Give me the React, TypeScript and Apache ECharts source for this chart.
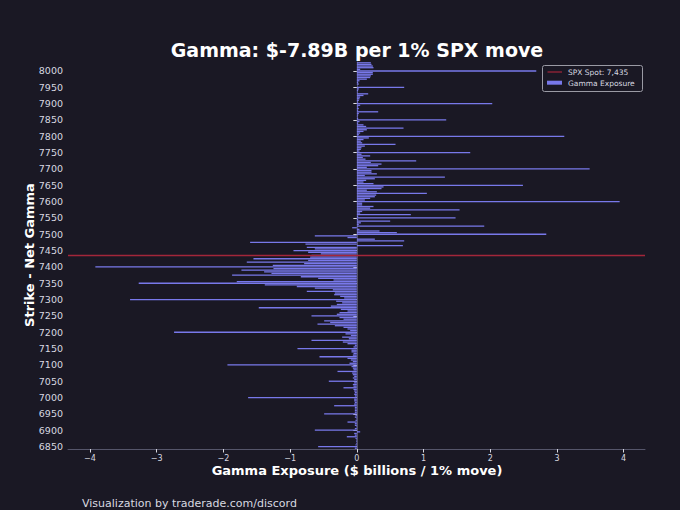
import React, { useEffect, useRef } from "react";
import * as echarts from "echarts";

const SPX_SPOT = "7435";
const TITLE = "Gamma: $-7.89B per 1% SPX move";
const X_NAME = "Gamma Exposure ($ billions / 1% move)";
const Y_NAME = "Strike - Net Gamma";
const FOOTER = "Visualization by traderade.com/discord";

// strikes from 8025 down to 6845, step 5
const STRIKE_TOP = 8025;
const STRIKE_BOTTOM = 6845;
const STRIKE_STEP = 5;

// gamma exposure, $ billions per 1% move, listed from high strike to low strike
const gex8025to7755 = [
  0.21, 0.22, 0.24, 0.25, 0.05,
  2.69, 0.24, 0.24, 0.21, 0.2,
  0.15, 0.04, 0.02, 0.03, 0.0,
  0.71, 0.03, 0.02, 0.01, 0.17,
  0.1, 0.05, 0.04, 0.03, 0.02,
  2.03, 0.05, 0.02, 0.03, 0.02,
  0.32, 0.03, 0.02, 0.01, 0.02,
  1.34, 0.04, 0.02, 0.1, 0.14,
  0.7, 0.15, 0.1, 0.05, 0.03,
  3.11, 0.18, 0.1, 0.06, 0.08,
  0.58, 0.12, 0.07, 0.06, 0.04,
];
const gex7750to7505 = [
  1.7, 0.07, 0.2, 0.09, 0.13,
  0.89, 0.21, 0.37, 0.32, 0.15,
  3.49, 0.22, 0.22, 0.3, 0.12,
  1.32, 0.27, 0.14, 0.1, 0.25,
  2.49, 0.4, 0.37, 0.15, 0.3,
  1.05, 0.29, 0.27, 0.2, 0.12,
  3.94, 0.08, 0.08, 0.25, 0.2,
  1.54, 0.08, 0.05, 0.81, 0.02,
  1.48, 0.02, 0.5, 0.06, 0.03,
  1.91, -0.07, 0.04, 0.34, 0.6,
];
const gex7500to7255 = [
  2.84, -0.63, -0.14, 0.27, 0.71,
  -1.6, -0.77, 0.69, -0.75, -0.63,
  -0.95, -0.73, -0.54, -0.68, -0.7,
  -1.55, -0.73, -1.65, -0.79, -1.26,
  -3.92, -1.25, -1.73, -1.39, -1.28,
  -1.87, -0.84, -0.58, -0.35, -1.8,
  -3.27, -1.38, -0.9, -0.63, -0.36,
  -0.75, -0.33, -0.34, -0.25, -0.19,
  -3.4, -0.31, -0.22, -0.3, -0.39,
  -1.47, -0.24, -0.14, -0.26, -0.3,
];
const gex7250to7005 = [
  -0.68, -0.26, -0.2, -0.49, -0.4,
  -0.59, -0.33, -0.2, -0.14, -0.1,
  -2.74, -0.17, -0.09, -0.22, -0.12,
  -0.68, -0.21, -0.14, -0.03, -0.05,
  -0.89, -0.08, -0.08, -0.05, -0.06,
  -0.56, -0.14, -0.09, -0.06, -0.11,
  -1.94, -0.08, -0.06, -0.05, -0.29,
  -0.07, -0.06, -0.04, -0.06, -0.04,
  -0.42, -0.04, -0.06, -0.05, -0.2,
  -0.05, -0.04, -0.03, -0.04, -0.03,
];
const gex7000to6845 = [
  -1.63, -0.04, -0.04, -0.03, -0.04,
  -0.34, -0.03, -0.03, -0.03, -0.03,
  -0.49, -0.02, -0.03, -0.01, -0.02,
  -0.14, -0.03, -0.03, -0.01, -0.03,
  -0.63, 0.05, -0.04, -0.03, -0.15,
  -0.02, -0.01, -0.01, -0.01, -0.02,
  -0.58, -0.03,
];

const yTickLabels = [
  "6850", "6900", "6950", "7000", "7050", "7100", "7150", "7200", "7250",
  "7300", "7350", "7400", "7450", "7500", "7550", "7600", "7650", "7700",
  "7750", "7800", "7850", "7900", "7950", "8000",
];
const xTickValues = [-4, -3, -2, -1, 0, 1, 2, 3, 4];

const BG = "#1a1824";
const BAR = "#7878ea";
const SPOT_COLOR = "#a3263a";
const TEXT = "#d8d8e0";
const AXIS = "#55556a";
const FONT = "DejaVu Sans";

export default function App() {
  const ref = useRef<HTMLDivElement>(null);

  useEffect(() => {
    if (!ref.current) return;
    const chart = echarts.init(ref.current, undefined, { renderer: "svg" });

    const strikesDesc: string[] = [];
    for (let s = STRIKE_TOP; s >= STRIKE_BOTTOM; s -= STRIKE_STEP) strikesDesc.push(String(s));
    const valuesDesc = [
      ...gex8025to7755,
      ...gex7750to7505,
      ...gex7500to7255,
      ...gex7250to7005,
      ...gex7000to6845,
    ];
    const strikes = strikesDesc.slice().reverse();
    const values = valuesDesc.slice().reverse();

    const isLabel = (_i: number, v: string) => yTickLabels.includes(String(v));

    chart.setOption({
      animation: false,
      backgroundColor: BG,
      textStyle: { fontFamily: FONT },
      grid: { left: 68, right: 35, top: 62, bottom: 61, containLabel: false },
      xAxis: {
        type: "value",
        min: -4.33,
        max: 4.32,
        splitLine: { show: false },
        axisLine: { show: true, onZero: false, lineStyle: { color: AXIS, width: 1 } },
        axisTick: { show: true, length: 3.5, lineStyle: { color: TEXT }, customValues: xTickValues },
        axisLabel: {
          color: TEXT,
          fontSize: 8,
          fontFamily: FONT,
          margin: 5,
          customValues: xTickValues,
          formatter: (v: number) => String(v).replace("-", "\u2212"),
        },
      },
      yAxis: {
        type: "category",
        data: strikes,
        boundaryGap: true,
        axisLine: { show: true, lineStyle: { color: AXIS, width: 1 } },
        axisTick: { show: true, length: 3.5, alignWithLabel: true, interval: isLabel, lineStyle: { color: TEXT } },
        axisLabel: { color: TEXT, fontSize: 9.5, fontFamily: FONT, margin: 5, interval: isLabel },
        splitLine: { show: false },
      },
      series: [
        {
          type: "bar",
          data: values,
          barWidth: "80%",
          itemStyle: { color: BAR },
          z: 2,
          markLine: {
            silent: true,
            symbol: "none",
            z: 5,
            label: { show: false },
            emphasis: { disabled: true },
            lineStyle: { color: SPOT_COLOR, width: 1.3, type: "solid", opacity: 1 },
            data: [{ yAxis: SPX_SPOT, lineStyle: { color: SPOT_COLOR } }],
          },
        },
      ],
      graphic: [
        {
          type: "text",
          x: 357,
          y: 50,
          style: {
            text: TITLE,
            fill: "#ffffff",
            font: `bold 19px "${FONT}"`,
            textAlign: "center",
            textVerticalAlign: "middle",
          },
        },
        {
          type: "text",
          x: 357,
          y: 470,
          style: {
            text: X_NAME,
            fill: "#ffffff",
            font: `bold 13px "${FONT}"`,
            textAlign: "center",
            textVerticalAlign: "middle",
          },
        },
        {
          type: "text",
          x: 29,
          y: 255,
          rotation: Math.PI / 2,
          style: {
            text: Y_NAME,
            fill: "#ffffff",
            font: `bold 13px "${FONT}"`,
            textAlign: "center",
            textVerticalAlign: "middle",
          },
        },
        {
          type: "text",
          x: 82,
          y: 503,
          style: {
            text: FOOTER,
            fill: TEXT,
            font: `11px "${FONT}"`,
            textAlign: "left",
            textVerticalAlign: "middle",
          },
        },
        {
          type: "group",
          children: [
            {
              type: "rect",
              shape: { x: 542.5, y: 65.5, width: 100, height: 26, r: 2 },
              style: { fill: BG, stroke: "#9a9aa4", lineWidth: 1 },
            },
            {
              type: "line",
              shape: { x1: 547.5, y1: 72, x2: 562, y2: 72 },
              style: { stroke: SPOT_COLOR, lineWidth: 1.2 },
            },
            {
              type: "text",
              x: 568,
              y: 72,
              style: {
                text: "SPX Spot: 7,435",
                fill: TEXT,
                font: `7.5px "${FONT}"`,
                textVerticalAlign: "middle",
              },
            },
            {
              type: "rect",
              shape: { x: 547, y: 80.7, width: 15, height: 4 },
              style: { fill: BAR },
            },
            {
              type: "text",
              x: 568,
              y: 83,
              style: {
                text: "Gamma Exposure",
                fill: TEXT,
                font: `7.5px "${FONT}"`,
                textVerticalAlign: "middle",
              },
            },
          ],
        },
      ],
    });

    return () => chart.dispose();
  }, []);

  return (
    <div
      ref={ref}
      style={{ position: "fixed", left: 0, top: 0, width: 680, height: 510, background: BG }}
    />
  );
}
